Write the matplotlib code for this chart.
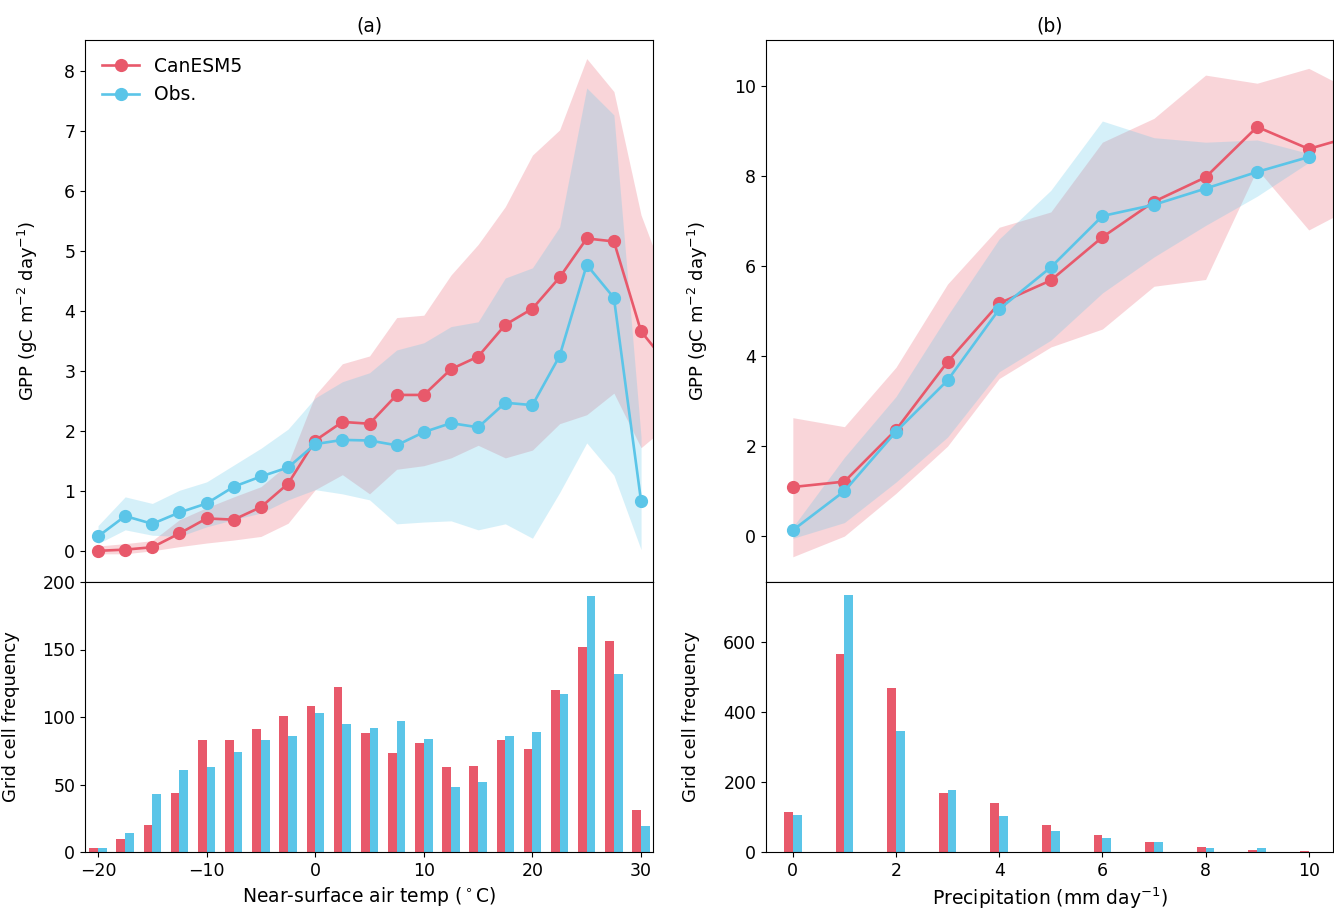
import numpy as np
import matplotlib
matplotlib.use('Agg')
import matplotlib.pyplot as plt

nan = np.nan

# ---- panel (a): GPP against near-surface air temperature ----
temp = [-20, -17.5, -15, -12.5, -10, -7.5, -5, -2.5, 0, 2.5, 5, 7.5,
        10, 12.5, 15, 17.5, 20, 22.5, 25, 27.5, 30, 32.5]
gpp_mod_t = [0.0, 0.02, 0.06, 0.29, 0.54, 0.52, 0.73, 1.12, 1.84, 2.15, 2.12, 2.60,
             2.60, 3.03, 3.24, 3.77, 4.04, 4.56, 5.21, 5.16, 3.66, 3.10]
gpp_obs_t = [0.24, 0.58, 0.45, 0.64, 0.79, 1.07, 1.24, 1.39, 1.78, 1.85, 1.84, 1.76,
             1.98, 2.13, 2.06, 2.47, 2.43, 3.25, 4.77, 4.22, 0.83, nan]
mod_hi_t = [0.08, 0.12, 0.17, 0.52, 0.72, 0.90, 1.07, 1.45, 2.60, 3.12, 3.25, 3.89,
            3.93, 4.60, 5.11, 5.74, 6.60, 7.02, 8.21, 7.66, 5.60, 4.40]
mod_lo_t = [-0.05, -0.05, 0.0, 0.07, 0.13, 0.18, 0.24, 0.46, 1.02, 1.27, 0.95, 1.36,
            1.42, 1.55, 1.76, 1.55, 1.68, 2.12, 2.27, 2.63, 1.72, 2.10]
obs_hi_t = [0.42, 0.90, 0.79, 1.01, 1.15, 1.43, 1.71, 2.03, 2.55, 2.82, 2.97, 3.35,
            3.47, 3.74, 3.82, 4.55, 4.72, 5.40, 7.72, 7.27, 1.90, nan]
obs_lo_t = [0.12, 0.35, 0.26, 0.24, 0.40, 0.52, 0.63, 0.85, 1.02, 0.95, 0.85, 0.45,
            0.48, 0.50, 0.35, 0.45, 0.21, 0.97, 1.80, 1.26, 0.02, nan]

temp_bins = temp[:21]
freq_mod_t = [3, 10, 20, 44, 83, 83, 91, 101, 108, 122, 88, 73, 81, 63, 64, 83, 76, 120, 152, 156, 31]
freq_obs_t = [3, 14, 43, 61, 63, 74, 83, 86, 103, 95, 92, 97, 84, 48, 52, 86, 89, 117, 190, 132, 19]

# ---- panel (b): GPP against precipitation ----
precip = [0, 1, 2, 3, 4, 5, 6, 7, 8, 9, 10, 11]
gpp_mod_p = [1.09, 1.21, 2.36, 3.87, 5.17, 5.68, 6.64, 7.43, 7.97, 9.09, 8.60, 8.93]
gpp_obs_p = [0.13, 1.00, 2.32, 3.46, 5.04, 5.97, 7.11, 7.36, 7.72, 8.09, 8.42, nan]
mod_hi_p = [2.63, 2.43, 3.75, 5.60, 6.86, 7.20, 8.75, 9.28, 10.24, 10.06, 10.39, 9.80]
mod_lo_p = [-0.46, 0.0, 0.95, 2.00, 3.50, 4.20, 4.60, 5.55, 5.70, 8.15, 6.80, 7.40]
obs_hi_p = [0.20, 1.75, 3.10, 4.90, 6.60, 7.68, 9.22, 8.85, 8.75, 8.80, 8.50, nan]
obs_lo_p = [-0.05, 0.30, 1.20, 2.20, 3.65, 4.35, 5.40, 6.20, 6.90, 7.55, 8.30, nan]

precip_bins = precip[:11]
freq_mod_p = [114, 564, 469, 169, 140, 78, 48, 29, 14, 7, 2]
freq_obs_p = [107, 735, 346, 176, 102, 59, 41, 29, 12, 11, 1]

RED = '#e8596b'
BLUE = '#5bc5e8'

plt.rcParams['font.family'] = ['DejaVu Sans']
plt.rcParams['xtick.labelsize'] = 12.5
plt.rcParams['ytick.labelsize'] = 12.5

fig = plt.figure(figsize=(13.34, 9.10), dpi=100)
W, H = 1334., 910.

def box(l, t, r, b):
    return [l / W, 1 - b / H, (r - l) / W, (b - t) / H]

ax_a = fig.add_axes(box(85, 40, 653, 582))
ax_ah = fig.add_axes(box(85, 582, 653, 852))
ax_b = fig.add_axes(box(766, 40, 1333, 582))
ax_bh = fig.add_axes(box(766, 582, 1333, 852))


def draw_lines(ax, x, mod, obs, mlo, mhi, olo, ohi):
    ax.fill_between(x, mlo, mhi, color=RED, alpha=0.25, lw=0)
    ax.fill_between(x, olo, ohi, color=BLUE, alpha=0.25, lw=0)
    ax.plot(x, mod, '-o', color=RED, lw=1.9, ms=8.5, label='CanESM5')
    ax.plot(x, obs, '-o', color=BLUE, lw=1.9, ms=8.5, label='Obs.')
    ax.tick_params(axis='x', bottom=False, labelbottom=False)
    ax.set_ylabel('GPP (gC m$^{-2}$ day$^{-1}$)', fontsize=13)


def draw_bars(ax, x, mod, obs, w):
    x = np.asarray(x, dtype=float)
    ax.bar(x - w / 2, mod, width=w, color=RED)
    ax.bar(x + w / 2, obs, width=w, color=BLUE)
    ax.set_ylabel('Grid cell frequency', fontsize=13)


# (a)
draw_lines(ax_a, temp, gpp_mod_t, gpp_obs_t, mod_lo_t, mod_hi_t, obs_lo_t, obs_hi_t)
ax_a.set_xlim(-21.2, 31.1)
ax_a.set_ylim(-0.52, 8.52)
ax_a.set_yticks([0, 1, 2, 3, 4, 5, 6, 7, 8])
ax_a.set_title('(a)', fontsize=13.5)
ax_a.legend(loc='upper left', frameon=False, fontsize=13.5, handlelength=2.0)

draw_bars(ax_ah, temp_bins, freq_mod_t, freq_obs_t, 0.8)
ax_ah.set_xlim(-21.2, 31.1)
ax_ah.set_ylim(0, 200)
ax_ah.set_yticks([0, 50, 100, 150, 200])
ax_ah.set_xticks([-20, -10, 0, 10, 20, 30])
ax_ah.set_xlabel('Near-surface air temp ($^\\circ$C)', fontsize=13.5)

# (b)
draw_lines(ax_b, precip, gpp_mod_p, gpp_obs_p, mod_lo_p, mod_hi_p, obs_lo_p, obs_hi_p)
ax_b.set_xlim(-0.52, 10.47)
ax_b.set_ylim(-1.02, 11.02)
ax_b.set_yticks([0, 2, 4, 6, 8, 10])
ax_b.set_title('(b)', fontsize=13.5)

draw_bars(ax_bh, precip_bins, freq_mod_p, freq_obs_p, 0.17)
ax_bh.set_xlim(-0.52, 10.47)
ax_bh.set_ylim(0, 771)
ax_bh.set_yticks([0, 200, 400, 600])
ax_bh.set_xticks([0, 2, 4, 6, 8, 10])
ax_bh.set_xlabel('Precipitation (mm day$^{-1}$)', fontsize=13.5)

# y-label positions as in the original
ax_a.yaxis.set_label_coords(-0.079, 0.5)
ax_ah.yaxis.set_label_coords(-0.114, 0.5)
ax_b.yaxis.set_label_coords(-0.099, 0.5)
ax_bh.yaxis.set_label_coords(-0.116, 0.5)

fig.savefig('out.png', dpi=100)
